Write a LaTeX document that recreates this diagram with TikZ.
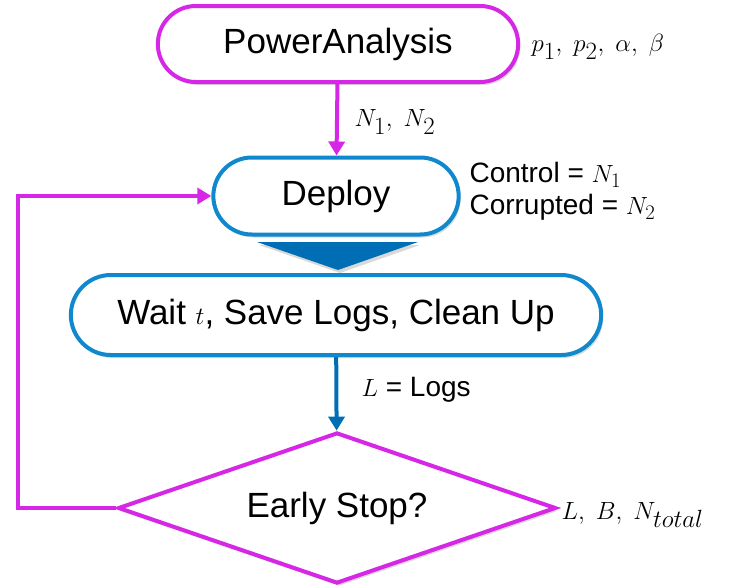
\documentclass[tikz,border=0pt]{standalone}
\usepackage{fontspec}
\setmainfont{Liberation Sans}
\usetikzlibrary{shapes.geometric,shapes.misc,arrows.meta,shadows}

\definecolor{flowpink}{RGB}{214,38,230}
\definecolor{flowblue}{RGB}{16,136,206}
\definecolor{flowdark}{RGB}{0,110,180}

\begin{document}
\begin{tikzpicture}[x=1pt, y=-1pt,
  shade/.style={drop shadow={opacity=0.3, shadow xshift=2pt, shadow yshift=-3pt}},
  pinkbox/.style={rounded rectangle, draw=flowpink, line width=4pt, fill=white, shade, font=\fontsize{35}{40}\selectfont},
  bluebox/.style={rounded rectangle, draw=flowblue, line width=4pt, fill=white, shade, font=\fontsize{35}{40}\selectfont},
  decision/.style={diamond, shape aspect=2.9, draw=flowpink, line width=4pt, fill=white, inner sep=0pt, shade, font=\fontsize{35}{40}\selectfont},
  pinkline/.style={draw=flowpink, line width=4pt, -{Triangle[length=14pt,width=16pt]}},
  blueline/.style={draw=flowdark, line width=4pt, -{Triangle[length=14pt,width=16pt]}},
  note/.style={anchor=west, font=\fontsize{28}{32}\selectfont},
  mathnote/.style={anchor=west, font=\fontsize{34}{38}\selectfont}]

\useasboundingbox (0,0) rectangle (736,587);

% boxes
\node[pinkbox, minimum width=367pt, minimum height=76pt] (power) at (338,44) {PowerAnalysis};
\node[bluebox, minimum width=252pt, minimum height=77pt] (deploy) at (336,196) {Deploy};
\node[bluebox, minimum width=537pt, minimum height=80pt] (wait) at (336,315) {Wait $t$, Save Logs, Clean Up};
\node[decision, minimum width=438pt, minimum height=151pt] (stop) at (337,508) {Early Stop?};

\fill[flowdark, shade] (257,242) -- (418,242) -- (338,270) -- cycle;

% connectors
\draw[pinkline] (power) -- (deploy);
\draw[blueline] (wait) -- (stop);
\draw[pinkline] (stop.west) -- ++(-98,0) |- (deploy.west);

% side notes
\node[mathnote] (powerin) at (528,47) {$p_1,\; p_2,\; \alpha,\; \beta$};
\node[mathnote] (groups) at (351,122) {$N_1,\; N_2$};
\node[note, align=left] (arms) at (466,191) {Control = $N_1$\\Corrupted = $N_2$};
\node[note] (logs) at (358,390) {$L$ = Logs};
\node[mathnote] (stopin) at (558,515) {$L,\; B,\; N_{total}$};

\end{tikzpicture}
\end{document}
